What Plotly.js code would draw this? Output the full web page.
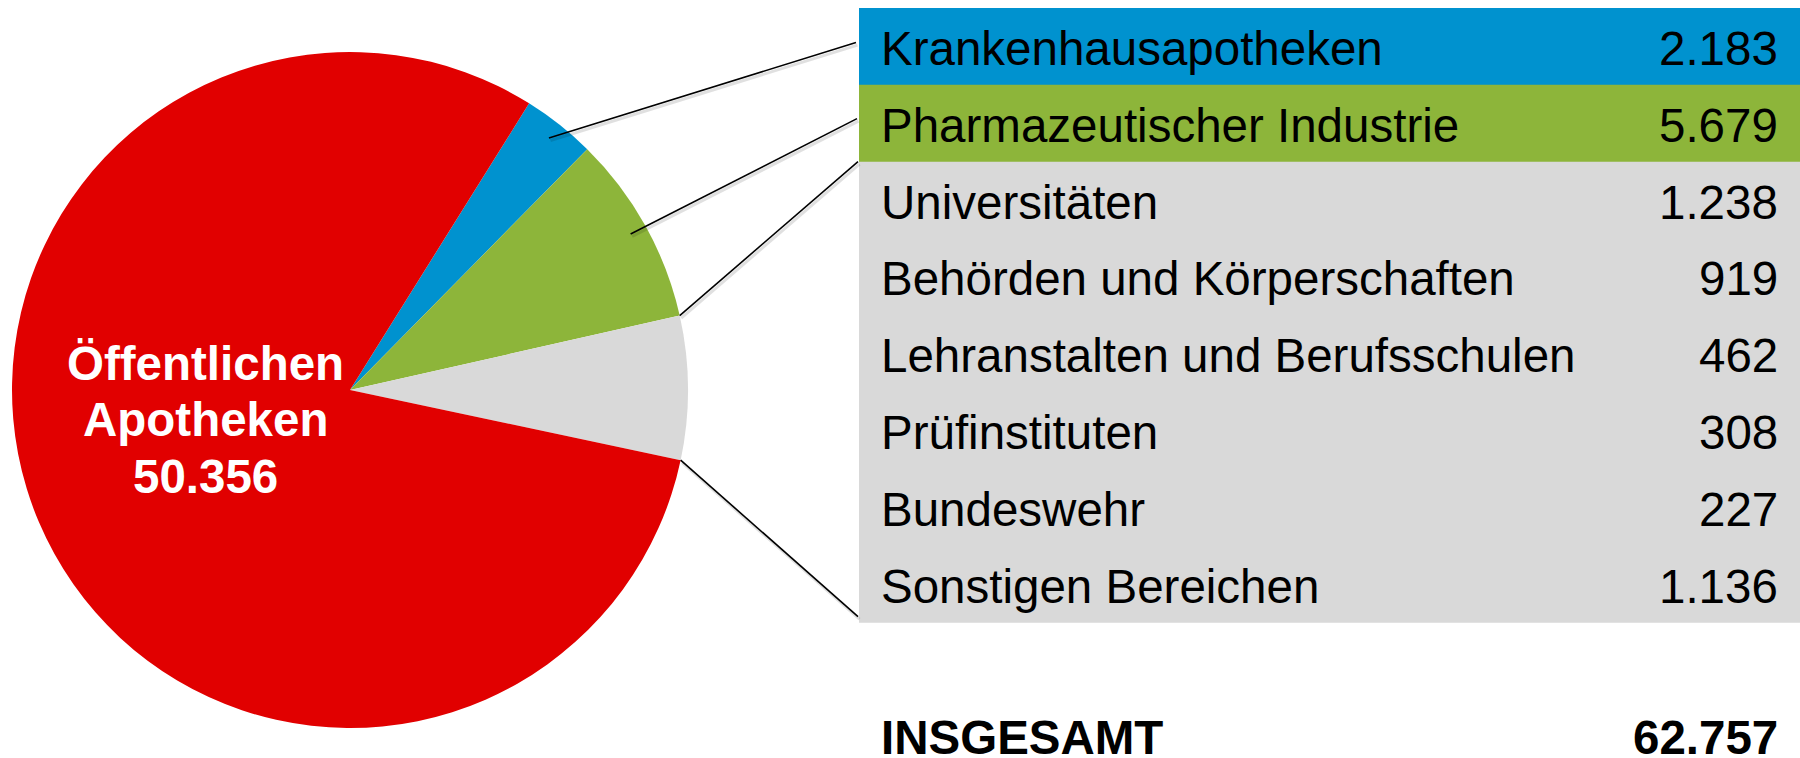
<!DOCTYPE html>
<html>
<head>
<meta charset="utf-8">
<script src="https://cdn.plot.ly/plotly-3.0.1.min.js"></script>
<style>
html,body{margin:0;padding:0;background:#fff;}
#chart{width:1800px;height:758px;}
</style>
</head>
<body>
<div id="chart"></div>
<script>
// ---- data ----
const categories = ["Krankenhausapotheken", "Pharmazeutischer Industrie", "Universitäten",
  "Behörden und Körperschaften", "Lehranstalten und Berufsschulen", "Prüfinstituten",
  "Bundeswehr", "Sonstigen Bereichen"];
const values = [2183, 5679, 1238, 919, 462, 308, 227, 1136];
const mainLabelLines = ["Öffentlichen", "Apotheken"];
const mainValue = 50356;
const totalLabel = "INSGESAMT";
const totalValue = 62757;

// ---- styling / layout constants ----
const W = 1800, H = 758;
const RED = "#E10000", BLUE = "#0092CF", GREEN = "#8DB53A", GRAY = "#D9D9D9";
const FONT = "Liberation Sans, Arial, sans-serif";
const FS = 47.5;
const PIE_CX = 350, PIE_CY = 390, PIE_R = 338, ROT = 32;
const ROW_TOP = 8, ROW_H = 76.84;
const TABLE_X0 = 859, TABLE_X1 = 1800, TEXT_L = 879, TEXT_R = 1780;

function fmt(n) { return String(n).replace(/\B(?=(\d{3})+(?!\d))/g, "."); }
function rowFromPx(py) { return (py - ROW_TOP) / ROW_H - 0.5; }

const otherSum = values.slice(2).reduce((a, b) => a + b, 0);
const pieLabels = [categories[0], categories[1], "Sonstige", mainLabelLines.join(" ")];
const pieValues = [values[0], values[1], otherSum, mainValue];
const pieColors = [BLUE, GREEN, GRAY, RED];
const rowColors = categories.map((c, i) => i === 0 ? BLUE : (i === 1 ? GREEN : GRAY));

// slice angles (clockwise from 12 o'clock)
const pieTot = pieValues.reduce((a, b) => a + b, 0);
const ang = [];
let acc = ROT;
pieValues.forEach(v => { const a0 = acc; acc += v / pieTot * 360; ang.push([a0, acc]); });
function pt(deg, rf) {
  const t = deg * Math.PI / 180;
  return { x: PIE_CX + PIE_R * rf * Math.sin(t), y: rowFromPx(PIE_CY - PIE_R * rf * Math.cos(t)) };
}

const shapes = [];
// table rows (slight overlap into the next row to avoid anti-aliasing seams)
categories.forEach((c, i) => {
  const last = i === categories.length - 1;
  shapes.push({ type: "rect", xref: "x", yref: "y", x0: TABLE_X0, x1: TABLE_X1 + 2, y0: i - 0.5, y1: i + 0.5 + (last ? 0 : 0.03),
    fillcolor: rowColors[i], line: { width: 0 }, layer: "below" });
});
// leader lines
const conn = [
  [pt((ang[0][0] + ang[0][1]) / 2, 0.95), { x: 856, y: 0 - 0.05 }],
  [pt((ang[1][0] + ang[1][1]) / 2, 0.95), { x: 857, y: 1 - 0.06 }],
  [pt(ang[2][0], 1.0), { x: 858, y: 1.5 }],
  [pt(ang[2][1], 1.0), { x: 858, y: categories.length - 0.5 - 0.08 }]
];
conn.forEach(([a, b]) => {
  shapes.push({ type: "line", xref: "x", yref: "y", x0: a.x + 1.5, y0: a.y + 2.5 / ROW_H, x1: b.x + 1.5, y1: b.y + 2.5 / ROW_H,
    line: { color: "rgba(0,0,0,0.12)", width: 3 } });
  shapes.push({ type: "line", xref: "x", yref: "y", x0: a.x, y0: a.y, x1: b.x, y1: b.y,
    line: { color: "#000", width: 1.6 } });
});

const annotations = [];
const YS = -2;
categories.forEach((c, i) => {
  annotations.push({ xref: "x", yref: "y", x: TEXT_L, y: i, text: c, showarrow: false, xanchor: "left", yanchor: "middle",
    yshift: YS, font: { family: FONT, size: FS, color: "#000" } });
  annotations.push({ xref: "x", yref: "y", x: TEXT_R, y: i, text: fmt(values[i]), showarrow: false, xanchor: "right", yanchor: "middle",
    yshift: YS, font: { family: FONT, size: FS, color: "#000" } });
});
const totalRow = categories.length + 1;
annotations.push({ xref: "x", yref: "y", x: TEXT_L, y: totalRow, text: "<b>" + totalLabel + "</b>", showarrow: false,
  xanchor: "left", yanchor: "middle", yshift: 0, font: { family: FONT, size: FS, color: "#000" } });
annotations.push({ xref: "x", yref: "y", x: TEXT_R, y: totalRow, text: "<b>" + fmt(totalValue) + "</b>", showarrow: false,
  xanchor: "right", yanchor: "middle", yshift: 0, font: { family: FONT, size: FS, color: "#000" } });
// pie label for the big slice
const labelLines = mainLabelLines.concat([fmt(mainValue)]);
const LABEL_X = 205, LABEL_Y0 = 363, LABEL_DY = 56.5;
labelLines.forEach((t, k) => {
  annotations.push({ xref: "x", yref: "y", x: LABEL_X, y: rowFromPx(LABEL_Y0 + k * LABEL_DY), text: "<b>" + t + "</b>",
    showarrow: false, xanchor: "center", yanchor: "middle", font: { family: FONT, size: FS, color: "#fff" } });
});

const traces = [
  { type: "scatter", x: [], y: [], xaxis: "x", yaxis: "y", showlegend: false, hoverinfo: "skip" },
  { type: "pie", labels: pieLabels, values: pieValues, sort: false, direction: "clockwise", rotation: ROT,
    marker: { colors: pieColors, line: { width: 0 } }, textinfo: "none", hoverinfo: "label+value", showlegend: false,
    domain: { x: [(PIE_CX - PIE_R) / W, (PIE_CX + PIE_R) / W], y: [1 - (PIE_CY + PIE_R) / H, 1 - (PIE_CY - PIE_R) / H] } }
];

const layout = {
  width: W, height: H,
  margin: { l: 0, r: 0, t: 0, b: 0, pad: 0 },
  paper_bgcolor: "#fff", plot_bgcolor: "rgba(0,0,0,0)",
  showlegend: false,
  xaxis: { range: [0, W], visible: false, fixedrange: true, domain: [0, 1] },
  yaxis: { range: [rowFromPx(H), rowFromPx(0)], visible: false, fixedrange: true, domain: [0, 1] },
  shapes: shapes,
  annotations: annotations
};

Plotly.newPlot("chart", traces, layout, { displayModeBar: false, staticPlot: true });
</script>
</body>
</html>
